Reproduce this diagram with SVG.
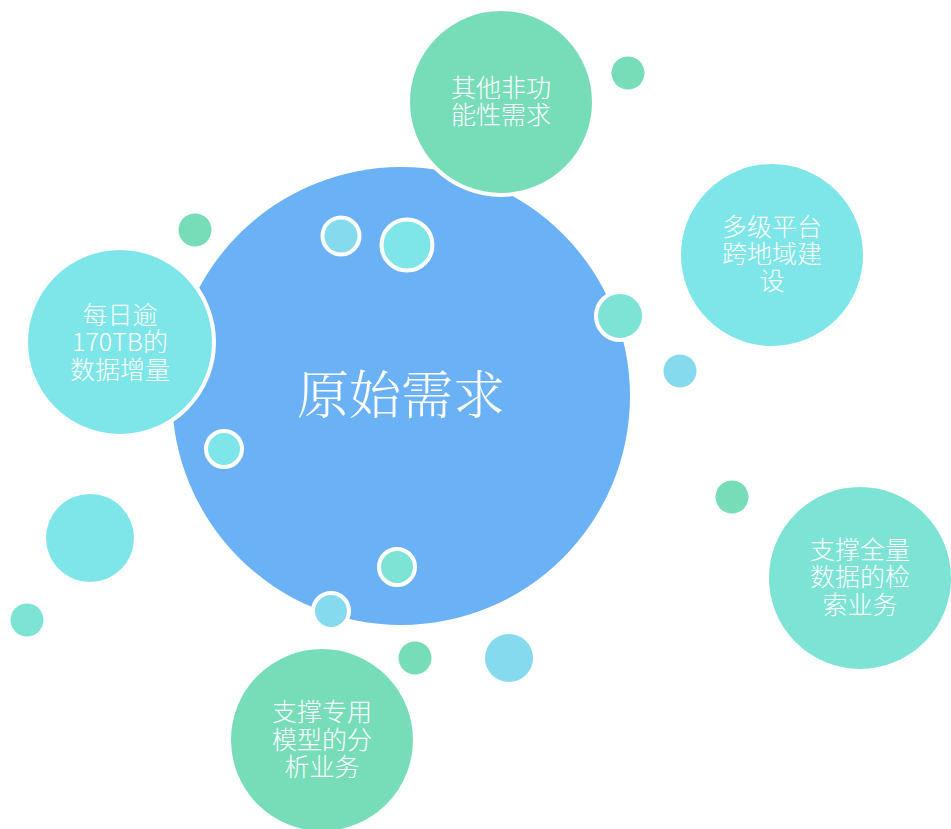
<svg xmlns="http://www.w3.org/2000/svg" width="951" height="829" viewBox="0 0 951 829">
<style>
.w{stroke:#fff;stroke-width:4}
.g{fill:#77DDB9}
.c{fill:#7EE6E8}
.b{fill:#86DAEE}
.t{fill:#7CE3D5}
.lbl{font-family:"Noto Sans CJK SC","Lato",sans-serif;font-size:25px;fill:#fff;text-anchor:middle;font-weight:300}
.main{font-family:"Noto Serif CJK SC","Noto Sans CJK SC",serif;font-size:52px;fill:#fff;text-anchor:middle;font-weight:300}
</style>
<rect width="951" height="829" fill="#fff"/>
<g id="connectors"></g>
<g id="root">
<circle cx="401" cy="396" r="229" fill="#6BB1F5"/>
<text class="main" x="401" y="414">原始需求</text>
</g>
<g id="decor">
<circle class="g" cx="628" cy="73" r="16.5"/>
<circle class="g" cx="195" cy="230" r="16.5"/>
<circle class="b w" cx="341" cy="236" r="18.5"/>
<circle class="c w" cx="407" cy="245" r="25.5"/>
<circle class="t w" cx="620" cy="316" r="24"/>
<circle class="b" cx="680" cy="371" r="16.5"/>
<circle class="c w" cx="224" cy="449" r="18"/>
<circle class="g" cx="732" cy="497" r="16.5"/>
<circle class="c" cx="90" cy="538" r="44"/>
<circle class="t w" cx="397" cy="567" r="18"/>
<circle class="b w" cx="331" cy="611" r="18"/>
<circle class="t" cx="27" cy="620" r="16.5"/>
<circle class="g" cx="415" cy="658" r="16.5"/>
<circle class="b" cx="509" cy="658" r="24"/>
</g>
<g id="n1">
<circle class="g w" cx="501" cy="102" r="93"/>
<text class="lbl" x="501" y="97">其他非功</text>
<text class="lbl" x="501" y="124">能性需求</text>
</g>
<g id="n2">
<circle class="c w" cx="772" cy="255" r="93"/>
<text class="lbl" x="772" y="236">多级平台</text>
<text class="lbl" x="772" y="263">跨地域建</text>
<text class="lbl" x="772" y="290">设</text>
</g>
<g id="n3">
<circle class="c w" cx="120" cy="342" r="94"/>
<text class="lbl" x="120" y="324">每日逾</text>
<text class="lbl" x="120" y="351">170TB的</text>
<text class="lbl" x="120" y="379">数据增量</text>
</g>
<g id="n4">
<circle class="t w" cx="860" cy="578" r="93"/>
<text class="lbl" x="860" y="559">支撑全量</text>
<text class="lbl" x="860" y="586">数据的检</text>
<text class="lbl" x="860" y="614">索业务</text>
</g>
<g id="n5">
<circle class="g w" cx="322" cy="740" r="93"/>
<text class="lbl" x="322" y="721">支撑专用</text>
<text class="lbl" x="322" y="749">模型的分</text>
<text class="lbl" x="322" y="776">析业务</text>
</g>
</svg>
